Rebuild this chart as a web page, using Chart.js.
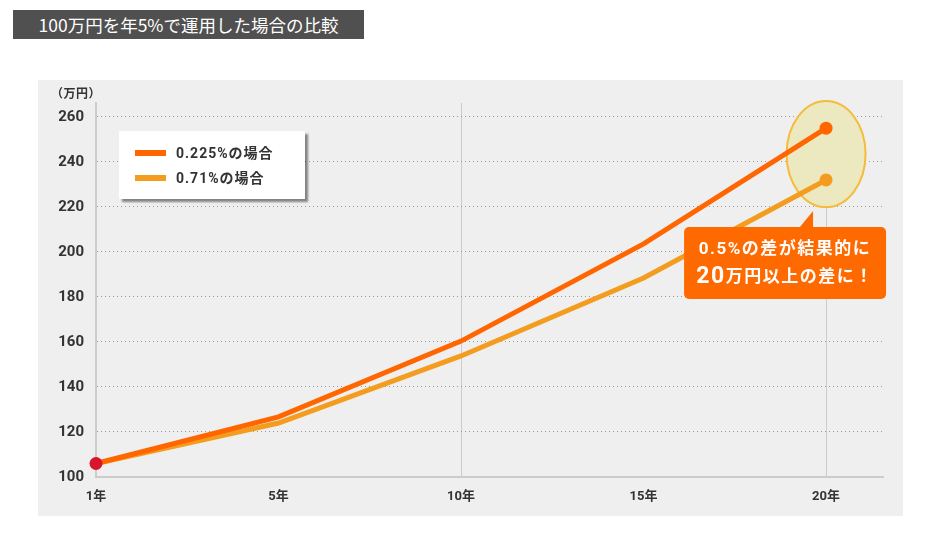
<!DOCTYPE html>
<html><head><meta charset="utf-8">
<script src="https://cdn.jsdelivr.net/npm/chart.js@4.4.1/dist/chart.umd.min.js"></script>
<style>
html,body{margin:0;padding:0;background:#fff;width:948px;height:552px;overflow:hidden;font-family:"Noto Sans CJK JP","Noto Sans",sans-serif;}
#title{position:absolute;left:13px;top:10px;width:351px;height:29px;background:#505050;color:#fff;font-size:17.5px;line-height:29px;text-align:center;}
#panel{position:absolute;left:38px;top:80px;width:865px;height:436px;background:#efefef;}
#unit{position:absolute;left:13px;top:4px;font-size:12px;font-weight:bold;color:#333;letter-spacing:0.5px;font-family:Roboto,"Noto Sans CJK JP",sans-serif;}
canvas{position:absolute;left:0;top:0;}
</style></head>
<body>
<div id="title">100万円を年5%で運用した場合の比較</div>
<div id="panel"><canvas id="c" width="865" height="436"></canvas><div id="unit">（万円）</div></div>
<script>
const years = ['1年', '5年', '10年', '15年', '20年'];
const rate0225 = [106, 126.7, 160.4, 203.6, 255];
const rate071 = [106, 124, 153.8, 188.4, 232];
const seriesLabels = ['0.225%の場合', '0.71%の場合'];
const yTickValues = [100, 120, 140, 160, 180, 200, 220, 240, 260];
const gridYears = ['10年', '20年'];
const calloutLines = ['0.5%の差が結果的に', '20万円以上の差に！'];

const C_ORANGE = '#ff6600';
const C_LIGHT = '#f39c1e';
const C_RED = '#d7162e';

const toPts = arr => arr.map((v, i) => ({x: i, y: v}));
const last = years.length - 1;

const overlay = {
  id: 'overlay',
  beforeDatasetsDraw(chart) {
    const {ctx, scales: {x, y}} = chart;
    const cx = x.getPixelForValue(last);
    const cy = y.getPixelForValue((rate0225[last] + rate071[last]) / 2);
    ctx.save();
    ctx.beginPath();
    ctx.ellipse(cx, cy, 39.5, 53, 0, 0, Math.PI * 2);
    ctx.fillStyle = '#ece8c0';
    ctx.fill();
    ctx.lineWidth = 2;
    ctx.strokeStyle = '#f5bb3c';
    ctx.stroke();
    ctx.restore();
  },
  afterDatasetsDraw(chart) {
    const {ctx, chartArea: a, scales: {x, y}} = chart;
    // legend box
    ctx.save();
    const lx = a.left + 23, ly = a.top + 28, lw = 186, lh = 68;
    ctx.shadowColor = 'rgba(0,0,0,0.45)';
    ctx.shadowOffsetX = 3; ctx.shadowOffsetY = 3; ctx.shadowBlur = 2;
    ctx.fillStyle = '#fff';
    ctx.fillRect(lx, ly, lw, lh);
    ctx.restore();
    ctx.save();
    const cols = [C_ORANGE, C_LIGHT];
    seriesLabels.forEach((lab, i) => {
      const yy = a.top + 50 + i * 25;
      ctx.fillStyle = cols[i];
      ctx.fillRect(a.left + 39, yy - 3, 31, 6);
      ctx.fillStyle = '#333';
      ctx.font = 'bold 14px Roboto, "Noto Sans CJK JP", sans-serif';
      ctx.letterSpacing = '1px';
      ctx.textBaseline = 'middle';
      ctx.textAlign = 'left';
      ctx.fillText(lab, a.left + 80, yy + 1);
    });
    ctx.restore();
    // callout
    const cx = x.getPixelForValue(last);
    const cy = y.getPixelForValue((rate0225[last] + rate071[last]) / 2);
    const top = cy + 53 + 20, left = cx - 142, right = cx + 60, bottom = top + 72;
    ctx.save();
    ctx.fillStyle = '#ff6a00';
    ctx.beginPath();
    ctx.roundRect(left, top, right - left, bottom - top, 5);
    ctx.fill();
    ctx.beginPath();
    ctx.moveTo(cx - 13, top - 16);
    ctx.lineTo(cx - 13, top + 1);
    ctx.lineTo(cx - 27, top + 1);
    ctx.closePath();
    ctx.fill();
    ctx.fillStyle = '#fff';
    ctx.textBaseline = 'middle';
    ctx.textAlign = 'left';
    ctx.letterSpacing = '1.5px';
    const mid = (left + right) / 2;
    ctx.font = 'bold 17px Roboto, "Noto Sans CJK JP", sans-serif';
    const w1 = ctx.measureText(calloutLines[0]).width;
    ctx.fillText(calloutLines[0], mid - w1 / 2, top + 23);
    // second line: first two digits larger
    const big = calloutLines[1].slice(0, 2), rest = calloutLines[1].slice(2);
    ctx.font = 'bold 23px Roboto, "Noto Sans CJK JP", sans-serif';
    const wb = ctx.measureText(big).width;
    ctx.font = 'bold 17px Roboto, "Noto Sans CJK JP", sans-serif';
    const wr = ctx.measureText(rest).width;
    const sx = mid - (wb + wr) / 2;
    ctx.font = 'bold 23px Roboto, "Noto Sans CJK JP", sans-serif';
    ctx.fillText(big, sx, top + 50);
    ctx.font = 'bold 17px Roboto, "Noto Sans CJK JP", sans-serif';
    ctx.fillText(rest, sx + wb, top + 51);
    ctx.restore();
  }
};

new Chart(document.getElementById('c'), {
  type: 'line',
  data: {
    datasets: [
      {
        label: seriesLabels[0], data: toPts(rate0225),
        borderColor: C_ORANGE, borderWidth: 5, tension: 0, clip: false,
        pointRadius: rate0225.map((v, i) => (i === 0 || i === last) ? 6.5 : 0),
        pointBackgroundColor: rate0225.map((v, i) => i === 0 ? C_RED : C_ORANGE),
        pointBorderWidth: 0
      },
      {
        label: seriesLabels[1], data: toPts(rate071),
        borderColor: C_LIGHT, borderWidth: 5, tension: 0, clip: false,
        pointRadius: rate071.map((v, i) => i === last ? 6.5 : 0),
        pointBackgroundColor: C_LIGHT,
        pointBorderWidth: 0
      }
    ]
  },
  options: {
    responsive: false,
    animation: false,
    events: [],
    layout: {padding: {left: 0, right: 20, top: 23, bottom: 0}},
    plugins: {legend: {display: false}, tooltip: {enabled: false}},
    scales: {
      x: {
        type: 'linear', min: 0, max: 4.312,
        afterBuildTicks: s => { s.ticks = years.map((_, i) => ({value: i})); },
        afterFit: s => { s.height = 39; },
        ticks: {
          callback: v => years[v],
          padding: 12, color: '#333',
          font: {family: 'Roboto, "Noto Sans CJK JP", sans-serif', size: 13, weight: 'bold'},
          maxRotation: 0
        },
        grid: {
          drawTicks: false, lineWidth: 1,
          color: c => (c.tick && gridYears.includes(years[c.tick.value])) ? '#cccccc' : 'rgba(0,0,0,0)'
        },
        border: {display: true, color: '#cccccc', width: 2}
      },
      y: {
        min: 100, max: 266.2,
        afterBuildTicks: s => { s.ticks = yTickValues.map(v => ({value: v})); },
        afterFit: s => { s.width = 58; },
        ticks: {
          padding: 12, color: '#333',
          font: {family: 'Roboto, sans-serif', size: 15, weight: 'bold'}
        },
        grid: {
          drawTicks: false, lineWidth: 1,
          color: c => (c.tick && c.tick.value === 100) ? 'rgba(0,0,0,0)' : '#9a9a9a'
        },
        border: {display: true, color: '#cccccc', width: 2, dash: [1, 3]}
      }
    }
  },
  plugins: [overlay]
});
</script>
</body></html>
